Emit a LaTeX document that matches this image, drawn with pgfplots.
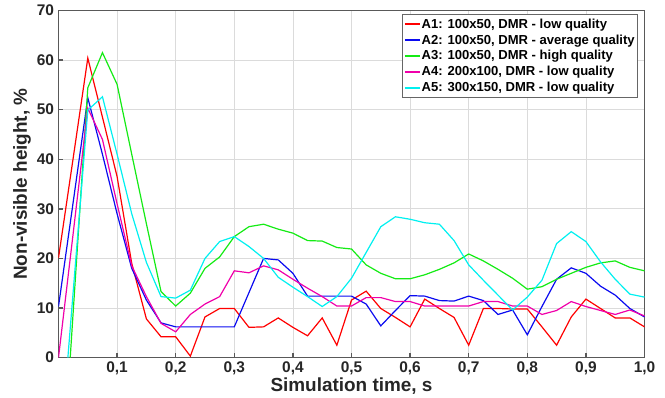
\documentclass[border=0pt]{standalone}
\usepackage{fontspec}
\setmainfont{Liberation Sans}
\usepackage{pgfplots}
\pgfplotsset{compat=1.18}
\definecolor{cA}{RGB}{255,0,0}
\definecolor{cB}{RGB}{10,10,240}
\definecolor{cC}{RGB}{20,235,20}
\definecolor{cD}{RGB}{240,0,170}
\definecolor{cE}{RGB}{0,240,240}
\begin{document}
\begin{tikzpicture}
\begin{axis}[
  scale only axis,
  width=586bp, height=347.1bp,
  xmin=0, xmax=1, ymin=0, ymax=70,
  xtick={0.1,0.2,0.3,0.4,0.5,0.6,0.7,0.8,0.9,1.0},
  ytick={0,10,20,30,40,50,60,70},
  extra x ticks={0}, extra x tick labels={},
  extra x tick style={grid=none},
  xtick pos=bottom, ytick pos=left,
  tick align=inside,
  major tick length=5bp,
  tick style={line width=1.4bp, color=black!65},
  grid=major,
  major grid style={line width=0.8bp, color=black!14},
  axis line style={line width=1.5bp, color=black!65},
  /pgf/number format/assume math mode=true,
  /pgf/number format/.cd, use comma, fixed, fixed zerofill, precision=1, /pgfplots/.cd,
  yticklabel={\pgfmathprintnumber[fixed,precision=0,fixed zerofill=false]{\tick}},
  tick label style={font=\bfseries\fontsize{15.5}{16}\selectfont, text=black!85},
  xticklabel style={inner sep=0pt, anchor=base, yshift=-15bp},
  yticklabel style={xshift=-1bp},
  xlabel={Simulation time, s},
  ylabel={Non-visible height, \%},
  label style={font=\bfseries\fontsize{19}{20}\selectfont, text=black!85},
  xlabel style={at={(axis description cs:0.5,0)}, anchor=base, yshift=-33.5bp, inner sep=0pt},
  ylabel style={at={(axis description cs:-0.0623,0.5)}, anchor=center, inner sep=0pt},
  legend style={at={(rel axis cs:0.9884,0.989)}, anchor=north east,
    draw=black!60, line width=1bp, fill=white,
    font=\bfseries\fontsize{13.1}{14}\selectfont,
    inner xsep=1.5bp, inner ysep=1.3bp,
    nodes={inner ysep=2.5bp, inner xsep=1bp},
    cells={anchor=west}, row sep=0pt},
  legend image code/.code={\draw[#1, line width=1.5bp] (0bp,0bp) -- (15bp,0bp);},
  every axis plot/.append style={line width=1.2bp},
]
\addplot[color=cA] coordinates {
(0,20.1)(0.025,40.2)(0.05,60.4)(0.075,48.5)(0.1,36.5)(0.125,19)(0.15,7.8)(0.175,4.2)(0.2,4.2)(0.225,0.3)
(0.25,8.2)(0.275,9.9)(0.3,9.9)(0.325,6.1)(0.35,6.2)(0.375,8.0)(0.4,6.1)(0.425,4.4)(0.45,8.0)(0.475,2.5)
(0.5,11.6)(0.525,13.4)(0.55,9.9)(0.575,8.1)(0.6,6.2)(0.625,11.8)(0.65,9.9)(0.675,8.1)(0.7,2.5)(0.725,9.9)
(0.75,9.9)(0.775,9.8)(0.8,9.8)(0.825,6.2)(0.85,2.5)(0.875,8.2)(0.9,11.8)(0.925,9.9)(0.95,8.0)(0.975,8.0)(1.0,6.2)};
\addlegendentry{A1: 100x50, DMR - low quality}
\addplot[color=cB] coordinates {
(0,10.3)(0.025,31.3)(0.05,52.4)(0.075,41)(0.1,29)(0.125,18)(0.15,11.6)(0.175,7.0)(0.2,6.2)(0.225,6.2)
(0.25,6.2)(0.275,6.2)(0.3,6.2)(0.325,13.1)(0.35,20)(0.375,19.7)(0.4,17)(0.425,12.4)(0.45,12.4)(0.475,12.4)
(0.5,12.4)(0.525,10.8)(0.55,6.4)(0.575,9.5)(0.6,12.5)(0.625,12.4)(0.65,11.5)(0.675,11.4)(0.7,12.4)(0.725,11.5)
(0.75,8.7)(0.775,9.6)(0.8,4.6)(0.825,10.3)(0.85,15.8)(0.875,18.1)(0.9,17)(0.925,14.4)(0.95,12.6)(0.975,9.9)(1.0,8.2)};
\addlegendentry{A2: 100x50, DMR - average quality}
\addplot[color=cC] coordinates {
(0.02,0)(0.05,54.4)(0.075,61.5)(0.1,55.1)(0.125,41)(0.15,27)(0.175,13.3)(0.2,10.4)(0.225,13)
(0.25,18)(0.275,20.3)(0.3,24.4)(0.325,26.4)(0.35,26.9)(0.375,25.9)(0.4,25.1)(0.425,23.6)(0.45,23.5)(0.475,22.2)
(0.5,21.9)(0.525,18.7)(0.55,17)(0.575,15.9)(0.6,15.9)(0.625,16.7)(0.65,17.8)(0.675,19.1)(0.7,20.9)(0.725,19.5)
(0.75,17.8)(0.775,16)(0.8,13.8)(0.825,14.3)(0.85,15.8)(0.875,17)(0.9,18.2)(0.925,19.1)(0.95,19.5)(0.975,18.2)(1.0,17.5)};
\addlegendentry{A3: 100x50, DMR - high quality}
\addplot[color=cD] coordinates {
(0,0)(0.025,25)(0.05,50.3)(0.075,44)(0.1,31)(0.125,18.5)(0.15,12.3)(0.175,6.9)(0.2,5.2)(0.225,8.7)
(0.25,10.8)(0.275,12.3)(0.3,17.5)(0.325,17.1)(0.35,18.5)(0.375,17.7)(0.4,15.8)(0.425,14)(0.45,12.3)(0.475,10.4)
(0.5,10.4)(0.525,12.1)(0.55,12.1)(0.575,11.3)(0.6,11.3)(0.625,10.4)(0.65,10.4)(0.675,10.4)(0.7,10.4)(0.725,11.3)
(0.75,11.3)(0.775,10.4)(0.8,10.4)(0.825,8.7)(0.85,9.5)(0.875,11.3)(0.9,10.3)(0.925,9.5)(0.95,8.7)(0.975,9.6)(1.0,8.4)};
\addlegendentry{A4: 200x100, DMR - low quality}
\addplot[color=cE] coordinates {
(0.016,0)(0.05,49.9)(0.075,52.6)(0.1,41)(0.125,29)(0.15,19.2)(0.175,12.3)(0.2,12)(0.225,13.6)
(0.25,20)(0.275,23.4)(0.3,24.4)(0.325,22.4)(0.35,20)(0.375,16.2)(0.4,14.2)(0.425,12.3)(0.45,10.3)(0.475,12.3)
(0.5,16)(0.525,21.2)(0.55,26.4)(0.575,28.4)(0.6,27.9)(0.625,27.2)(0.65,26.9)(0.675,23.6)(0.7,18.7)(0.725,15.6)
(0.75,12.6)(0.775,9.6)(0.8,12.2)(0.825,15.6)(0.85,23)(0.875,25.4)(0.9,23.4)(0.925,19.3)(0.95,15.8)(0.975,12.8)(1.0,12.2)};
\addlegendentry{A5: 300x150, DMR - low quality}
\end{axis}
\pgfresetboundingbox
\path (-58.5bp,-40.4bp) rectangle (606.5bp,357.6bp);
\end{tikzpicture}
\end{document}
